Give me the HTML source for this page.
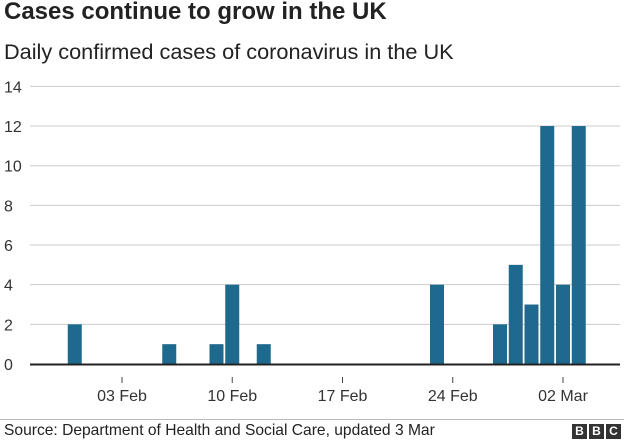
<!DOCTYPE html>
<html><head><meta charset="utf-8"><style>
body{margin:0;background:#fff;font-family:"Liberation Sans",Arial,sans-serif;}
#wrap{position:relative;width:624px;height:441px;overflow:hidden;}
.t{position:absolute;white-space:nowrap;color:#222;}
</style></head><body>
<div id="wrap">
<div class="t" style="left:4px;top:-2px;font-size:24px;font-weight:bold;color:#222">Cases continue to grow in the UK</div>
<div class="t" style="left:4px;top:39px;font-size:21.7px;color:#222">Daily confirmed cases of coronavirus in the UK</div>
<svg id="chart" width="624" height="441" style="position:absolute;left:0;top:0"></svg>
<div style="position:absolute;left:0;top:419px;width:624px;height:1px;background:#bbb"></div>
<div class="t" style="left:4px;top:422px;font-size:15.6px;color:#222">Source: Department of Health and Social Care, updated 3 Mar</div>
<div style="position:absolute;left:572px;top:424px;display:flex;gap:2px">
<span style="width:15px;height:15px;background:#333;color:#fff;font:bold 12px 'Liberation Sans';text-align:center;line-height:15px">B</span>
<span style="width:15px;height:15px;background:#333;color:#fff;font:bold 12px 'Liberation Sans';text-align:center;line-height:15px">B</span>
<span style="width:15px;height:15px;background:#333;color:#fff;font:bold 12px 'Liberation Sans';text-align:center;line-height:15px">C</span>
</div>
</div>
<script>
const dayIndex=[-3,3,6,7,9,20,24,25,26,27,28,29]; // days relative to 03 Feb
const cases=[2,1,1,4,1,4,2,5,3,12,4,12];
const yTicks=[0,2,4,6,8,10,12,14];
const xTickDays=[0,7,14,21,28];
const xTickLabels=["03 Feb","10 Feb","17 Feb","24 Feb","02 Mar"];
const NS="http://www.w3.org/2000/svg";
const svg=document.getElementById('chart');
const x=d=>122+d*15.75;
const y=v=>364-v*19.83;
function mk(tag,attrs){const e=document.createElementNS(NS,tag);for(const k in attrs)e.setAttribute(k,attrs[k]);svg.appendChild(e);return e;}
yTicks.forEach(v=>{
  if(v>0){const g=mk('line',{x1:30,x2:620,y1:y(v),y2:y(v),stroke:'#ccc','stroke-width':1});
  
  }
  const t=mk('text',{x:4,y:y(v)+6,'font-size':16,fill:'#333','font-family':'Liberation Sans'});
  t.textContent=v;
  
  
});
dayIndex.forEach((d,i)=>{
  const r=mk('rect',{x:x(d)-7,y:y(cases[i]),width:14,height:y(0)-y(cases[i]),fill:'#1d6a8e'});
  
  
});
const ax=mk('line',{x1:30,x2:620,y1:364.5,y2:364.5,stroke:'#222','stroke-width':2});


xTickDays.forEach((d,i)=>{
  const tk=mk('line',{x1:x(d),x2:x(d),y1:377,y2:383,stroke:'#444','stroke-width':1});
  
  
  const t=mk('text',{x:x(d),y:401,'font-size':16,fill:'#333','text-anchor':'middle','font-family':'Liberation Sans'});
  t.textContent=xTickLabels[i];
  
  
});
</script>
</body></html>
